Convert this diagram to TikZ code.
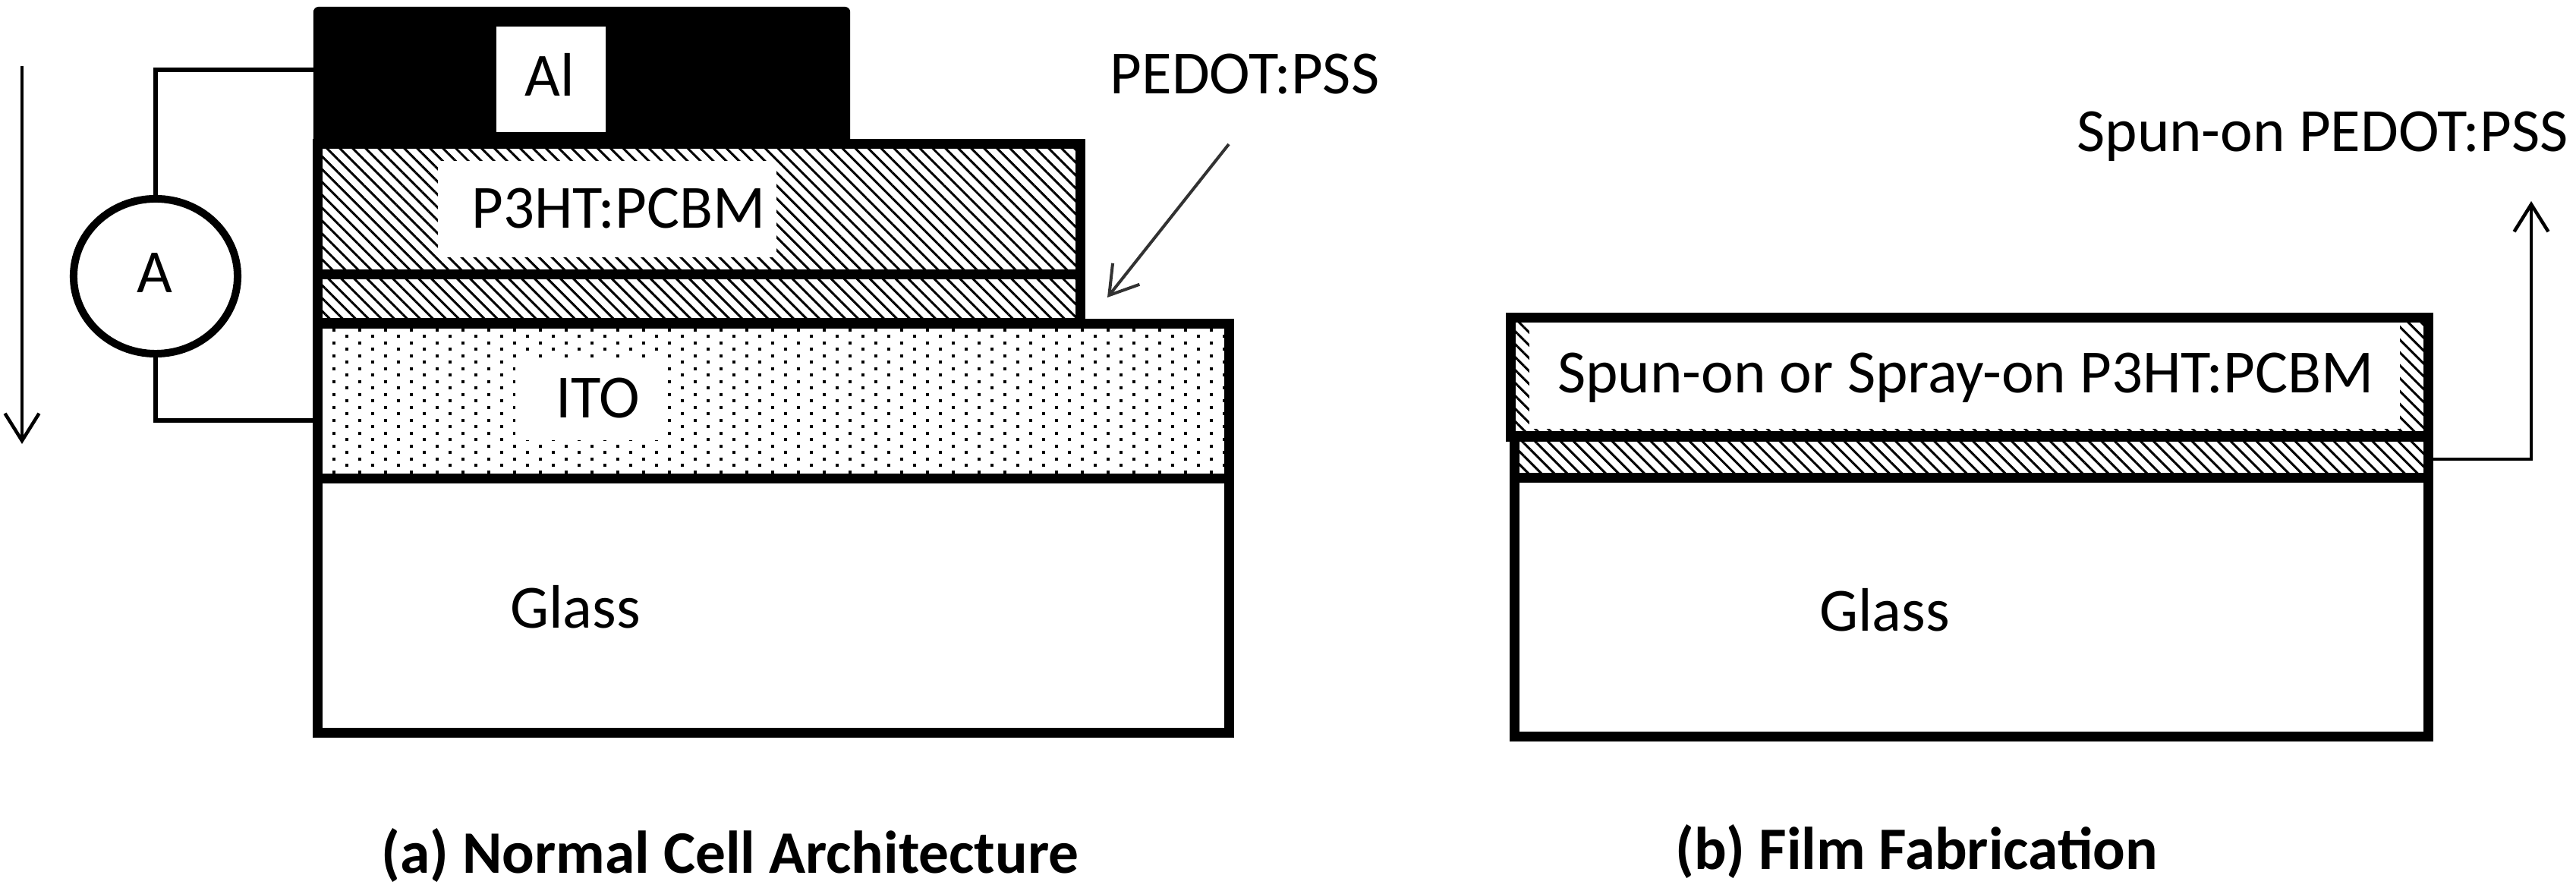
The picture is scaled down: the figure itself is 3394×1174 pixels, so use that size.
\documentclass[tikz,border=0pt]{standalone}
\usepackage{fontspec}
\setmainfont{Carlito}
\usepackage{tikz}
\usetikzlibrary{shapes.geometric, arrows.meta, patterns.meta}
\definecolor{leadcolor}{RGB}{50,50,50}

\begin{document}
\begin{tikzpicture}[
    x=0.01cm, y=-0.01cm,
    layer/.style={draw, line width=0.13cm, fill=white, inner sep=0pt, outer sep=0pt},
    hatched/.style={pattern={Lines[angle=-45, distance=0.12cm, line width=0.03cm]}},
    labelbox/.style={fill=white, inner sep=0pt, outer sep=0pt},
    caption/.style={font=\fontsize{23}{27}\selectfont, anchor=base, inner sep=0pt},
    captionbold/.style={font=\fontsize{22.6}{27}\selectfont\bfseries, anchor=base, inner sep=0pt},
    meter/.style={draw, ellipse, line width=0.1cm, minimum width=2.16cm, minimum height=2.04cm, inner sep=0pt, outer sep=0pt},
    wire/.style={line width=0.055cm},
    thinarrow/.style={line width=0.045cm, -{Straight Barb[length=0.36cm, width=0.45cm]}},
    leadarrow/.style={line width=0.04cm, leadcolor, -{Straight Barb[length=0.36cm, width=0.45cm]}}
]
    \useasboundingbox (0,0) rectangle (3394,1174);

    % Normal cell
    \node[fill=black, rounded corners=2pt, minimum width=7.07cm, minimum height=1.8cm, inner sep=0pt, outer sep=0pt] (al) at (766.5,99) {};
    \node[labelbox, minimum width=1.44cm, minimum height=1.39cm] (albox) at (726,104.5) {};
    \node[caption] (allabel) at (724,127) {Al};

    \node[layer, hatched, minimum width=10.04cm, minimum height=1.72cm] (p3ht) at (921,275.5) {};
    \node[labelbox, minimum width=4.46cm, minimum height=1.27cm] (p3htbox) at (800,275.5) {};
    \node[caption] (p3htlabel) at (815,301) {P3HT:PCBM};

    \node[layer, hatched, minimum width=10.04cm, minimum height=0.635cm] (pedot) at (921,393.5) {};

    \node[layer, minimum width=12cm, minimum height=2.04cm] (ito) at (1019,528.5) {};
    % Dots of the ITO layer
    \begin{scope}
        \clip (ito.north west) rectangle (ito.south east);
        \foreach \row in {0,...,22} {
            \foreach \col in {0,...,34} {
                \pgfmathsetmacro\dotx{440+34*\col+17*mod(\row,2)}
                \pgfmathsetmacro\doty{435+8.5*\row}
                \fill (\dotx-2,\doty-2) rectangle (\dotx+2,\doty+2);
            }
        }
    \end{scope}
    \node[labelbox, minimum width=2.01cm, minimum height=1.07cm] (itobox) at (779.5,526.5) {};
    \node[caption] (itolabel) at (788,551) {ITO};

    \node[layer, minimum width=12cm, minimum height=3.35cm] (glass) at (1019,798) {};
    \node[caption] (glasslabel) at (758,828) {Glass};

    % Ammeter
    \node[meter] (ammeter) at (205,364) {};
    \node[caption] (ammeterlabel) at (204,386) {A};
    \coordinate (altap) at (413,92);
    \coordinate (itotap) at (413,554);
    \draw[wire] (ammeter.north) |- (altap);
    \draw[wire] (ammeter.south) |- (itotap);

    % Current direction
    \coordinate (currenttop) at (29,87);
    \coordinate (currentend) at (29,585);
    \draw[thinarrow] (currenttop) -- (currentend);

    % PEDOT:PSS callout
    \node[caption] (pedotlabel) at (1640,124) {PEDOT:PSS};
    \coordinate (leadstart) at (1619,190);
    \coordinate (leadend) at (1459,392);
    \draw[leadarrow] (leadstart) -- (leadend);

    % Film fabrication
    \node[layer, hatched, minimum width=12.08cm, minimum height=1.56cm] (p3htfilm) at (2595,497) {};
    \node[labelbox, minimum width=11.47cm, minimum height=1.4cm] (filmbox) at (2588.5,495) {};
    \node[caption] (filmlabel) at (2590,518) {Spun-on or Spray-on P3HT:PCBM};

    \node[layer, hatched, minimum width=12.03cm, minimum height=0.55cm] (pedotfilm) at (2597.5,602.5) {};
    \node[layer, minimum width=12.03cm, minimum height=3.4cm] (glassfilm) at (2597.5,800) {};
    \node[caption] (glassfilmlabel) at (2483,832) {Glass};

    \node[caption] (spunlabel) at (3060,200) {Spun-on PEDOT:PSS};
    \coordinate (spuntip) at (3335,265);
    \draw[thinarrow] ([yshift=-0.025cm]pedotfilm.east) -| (spuntip);

    % Captions
    \node[captionbold] (captiona) at (962,1150) {(a) Normal Cell Architecture};
    \node[captionbold] (captionb) at (2525,1146) {(b) Film Fabrication};
\end{tikzpicture}
\end{document}
